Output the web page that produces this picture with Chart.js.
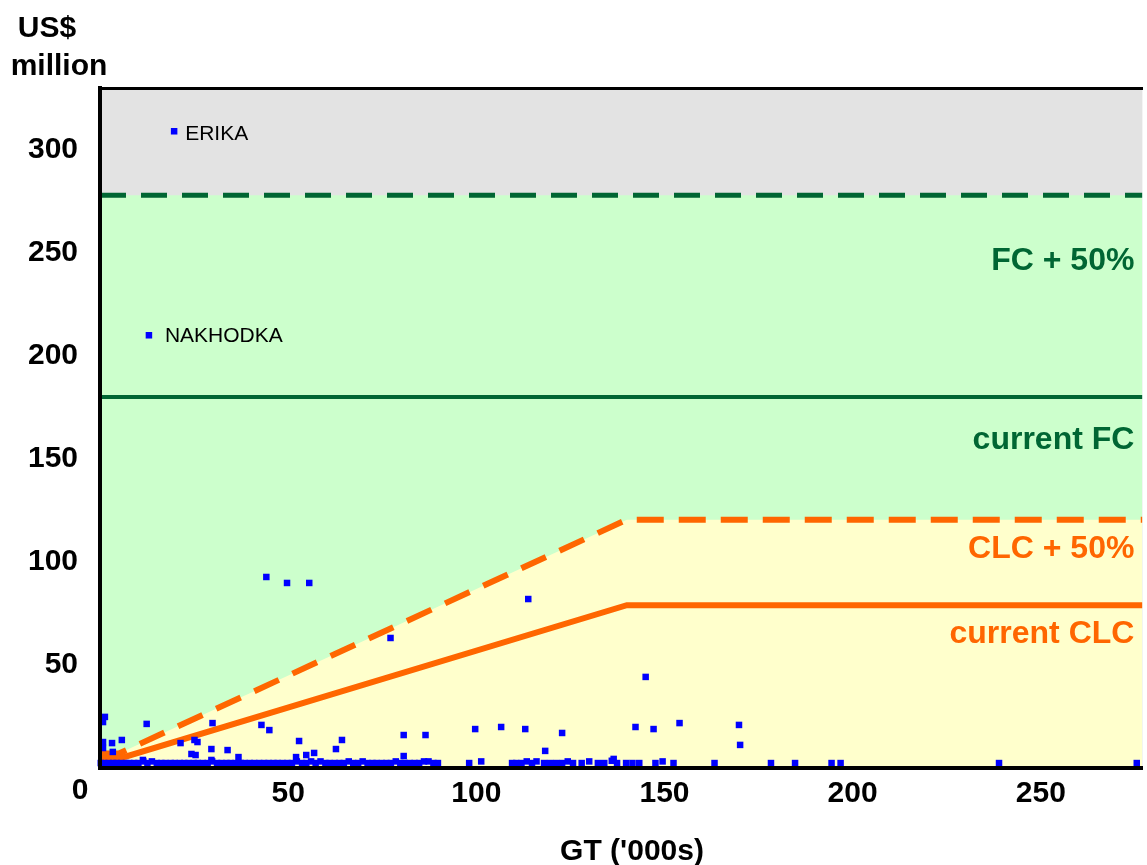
<!DOCTYPE html>
<html><head><meta charset="utf-8">
<script src="https://cdn.jsdelivr.net/npm/chart.js@4.4.1/dist/chart.umd.min.js"></script>
<style>html,body{margin:0;padding:0;background:#fff;overflow:hidden}#wrap{width:1147px;height:865px;position:relative}</style>
</head><body><div id="wrap"><canvas id="c" width="1147" height="865"></canvas></div>
<script>
// ---- data ----
const xTicks = [0, 50, 100, 150, 200, 250];
const yTicks = [0, 50, 100, 150, 200, 250, 300];

// limits (US$ million) vs GT ('000s)
const limitGT      = [0, 5, 140, 277];
const clcCurrent   = [4.5, 4.5, 79, 79];
const clcPlus50    = [7, 7, 120.5, 120.5];
const fcGT         = [0, 277];
const fcCurrent    = [180, 180];
const fcPlus50     = [278, 278];

// named incidents
const namedGT    = [19.7, 13.0];
const namedCost  = [309, 210];
const namedLabel = ['ERIKA', 'NAKHODKA'];

// other incidents (scattered)
const incGT = [44.2, 49.7, 55.6, 77.2, 113.8, 145.0, 1.3, 0.8, 12.4, 29.9, 42.9, 45.0, 0.8, 0.8, 3.2, 5.8,
  21.4, 25.1, 25.9, 29.6, 33.9, 24.3, 25.4, 36.8, 3.4, 11.4, 29.6, 52.9, 64.3, 62.7, 52.1, 54.8, 56.9,
  80.7, 86.5, 80.7, 99.7, 106.6, 113.0, 122.8, 118.3, 142.3, 147.1, 154.0, 169.8, 170.1, 136.5];
const incCost = [92.7, 89.8, 89.8, 63.1, 82.0, 44.2, 24.8, 22.3, 21.4, 21.8, 20.9, 18.4, 12.6, 9.7, 12.1, 13.6,
  12.1, 13.6, 12.6, 9.2, 8.7, 6.8, 6.3, 5.3, 7.8, 3.9, 3.9, 13.1, 13.6, 9.2, 5.3, 6.3, 7.3,
  16.0, 16.0, 5.8, 18.9, 19.9, 18.9, 17.0, 8.3, 19.9, 18.9, 21.8, 20.9, 11.2, 4.4];

// small incidents along the bottom
const smallGT = [0.2, 1.1, 2.3, 3.5, 4.4, 5.6, 6.9, 7.8, 9.1, 10.2, 11.5, 12.6, 13.8, 15.1, 16.3, 17.4, 18.8,
  19.9, 21.2, 22.4, 23.5, 24.9, 26.0, 27.3, 28.6, 29.8, 31.1, 32.3, 33.6, 34.7, 36.0, 37.4, 38.5, 39.8,
  41.0, 42.3, 43.6, 44.8, 46.1, 47.2, 48.5, 49.8, 51.0, 52.3, 53.7, 54.8, 56.1, 57.3, 58.6, 59.9, 61.0,
  62.4, 63.6, 64.8, 66.1, 67.3, 68.6, 69.8, 71.1, 72.4, 73.5, 74.9, 76.1, 77.3, 78.6, 79.8, 81.0, 82.3,
  83.6, 84.8, 86.1, 87.3, 88.6, 89.8, 98.1, 101.3, 109.5, 110.6, 112.0, 113.4, 114.8, 116.0, 118.0,
  119.6, 121.2, 122.8, 124.3, 125.7, 128.0, 130.0, 132.3, 134.0, 136.0, 137.4, 139.8, 141.5, 143.3,
  147.6, 149.5, 152.4, 163.3, 178.3, 184.7, 194.4, 196.8, 238.9, 275.5];
const smallCost = [2.4, 2.4, 2.4, 2.4, 2.4, 2.4, 2.4, 2.4, 2.4, 2.4, 3.2, 2.4, 3.2, 2.4, 2.4, 2.4, 2.4,
  2.4, 2.4, 2.4, 2.4, 2.4, 2.4, 2.4, 2.4, 3.2, 2.4, 2.4, 2.4, 2.4, 2.4, 2.4, 2.4, 2.4,
  2.4, 2.4, 2.4, 2.4, 2.4, 2.4, 2.4, 2.4, 2.4, 3.2, 2.4, 2.4, 3.2, 2.4, 3.2, 2.4, 2.4,
  2.4, 2.4, 2.4, 3.2, 2.4, 2.4, 3.2, 2.4, 2.4, 2.4, 2.4, 2.4, 2.4, 3.2, 2.4, 2.4, 2.4,
  2.4, 2.4, 3.2, 3.2, 2.4, 2.4, 2.4, 3.2, 2.4, 2.4, 2.4, 3.2, 2.4, 3.2, 2.4,
  2.4, 2.4, 2.4, 3.2, 2.4, 2.4, 3.2, 2.4, 2.4, 3.5, 2.4, 2.4, 2.4, 2.4,
  2.4, 3.2, 2.4, 2.4, 2.4, 2.4, 2.4, 2.4, 2.4, 2.4];

// ---- build ----
const pts = (xs, ys) => xs.map((x, i) => ({x: x, y: ys[i]}));
const F = "'Liberation Sans', Arial, sans-serif";
const GREEN = '#006633', ORANGE = '#ff6600', BLUE = '#0000ff';

const allIncidents = pts(namedGT, namedCost).concat(pts(incGT, incCost), pts(smallGT, smallCost));

const annot = {
  id: 'annot',
  beforeDraw(chart) {
    const {ctx, chartArea: a} = chart;
    ctx.save();
    ctx.fillStyle = '#e3e3e3';
    ctx.fillRect(a.left, a.top, a.right - a.left, a.bottom - a.top);
    ctx.restore();
  },
  afterDatasetsDraw(chart) {
    const {ctx, chartArea: a} = chart;
    const xs = chart.scales.x, ys = chart.scales.y;
    ctx.save();
    // level labels
    ctx.textAlign = 'right';
    ctx.textBaseline = 'alphabetic';
    ctx.font = 'bold 32px ' + F;
    const rx = a.right - 8;
    ctx.fillStyle = GREEN;
    ctx.fillText('FC + 50%', rx, ys.getPixelForValue(fcPlus50[1]) + 75);
    ctx.fillText('current FC', rx, ys.getPixelForValue(fcCurrent[1]) + 52);
    ctx.fillStyle = ORANGE;
    ctx.fillText('CLC + 50%', rx, ys.getPixelForValue(clcPlus50[3]) + 38);
    ctx.fillText('current CLC', rx, ys.getPixelForValue(clcCurrent[3]) + 38);
    // named incidents
    ctx.textAlign = 'left';
    ctx.fillStyle = '#000';
    ctx.font = '21px ' + F;
    const off = [[11, 8.5], [16, 6.5]];
    namedLabel.forEach((t, i) => {
      ctx.fillText(t, xs.getPixelForValue(namedGT[i]) + off[i][0], ys.getPixelForValue(namedCost[i]) + off[i][1]);
    });
    // axis titles and shared origin label
    ctx.font = 'bold 30px ' + F;
    ctx.textAlign = 'center';
    ctx.fillText('US$', 47, 37);
    ctx.fillText('million', 59, 75);
    ctx.fillText("GT ('000s)", 632, 860);
    ctx.fillText('0', a.left - 20, a.bottom + 31);
    ctx.restore();
  }
};

const tickFont = {family: F, size: 30, weight: 'bold'};

new Chart(document.getElementById('c'), {
  type: 'line',
  data: {
    datasets: [
      {label: 'incidents', data: allIncidents, showLine: false, pointStyle: 'rect', pointRadius: 4.6,
       pointBackgroundColor: BLUE, pointBorderWidth: 0, clip: false},
      {label: 'current CLC', data: pts(limitGT, clcCurrent), borderColor: ORANGE, borderWidth: 6, pointRadius: 0,
       fill: false, tension: 0},
      {label: 'CLC + 50%', data: pts(limitGT, clcPlus50), borderColor: ORANGE, borderWidth: 6, borderDash: [27, 15],
       pointRadius: 0, fill: 'origin', backgroundColor: '#ffffcc', tension: 0},
      {label: 'current FC', data: pts(fcGT, fcCurrent), borderColor: GREEN, borderWidth: 4, pointRadius: 0,
       fill: false},
      {label: 'FC + 50%', data: pts(fcGT, fcPlus50), borderColor: GREEN, borderWidth: 5, borderDash: [26, 15],
       pointRadius: 0, fill: 'origin', backgroundColor: '#ccffcc'}
    ]
  },
  options: {
    responsive: false,
    animation: false,
    devicePixelRatio: 1,
    layout: {padding: {top: 88, left: 0, right: 0, bottom: 0}},
    plugins: {
      legend: {display: false},
      tooltip: {enabled: false},
      filler: {drawTime: 'beforeDatasetsDraw'}
    },
    scales: {
      x: {
        type: 'linear', position: 'bottom', min: 0, max: 277,
        afterFit(s) { s.height = 97; },
        afterBuildTicks(s) { s.ticks = xTicks.map(v => ({value: v})); },
        ticks: {padding: 8, color: '#000', font: tickFont, maxRotation: 0, autoSkip: false,
                callback: v => (v === 0 ? '' : String(v))},
        grid: {display: false, drawTicks: false},
        border: {display: true, color: '#000', width: 4, z: 2}
      },
      x2: {
        type: 'linear', position: 'top', min: 0, max: 277,
        afterFit(s) { s.height = 0; },
        ticks: {display: false},
        grid: {display: false, drawTicks: false},
        border: {display: true, color: '#000', width: 3, z: 2}
      },
      y: {
        type: 'linear', position: 'left', min: 0, max: 330,
        afterFit(s) { s.width = 100; },
        afterBuildTicks(s) { s.ticks = yTicks.map(v => ({value: v})); },
        ticks: {padding: 22, color: '#000', font: tickFont, callback: v => (v === 0 ? '' : String(v))},
        grid: {display: false, drawTicks: false},
        border: {display: true, color: '#000', width: 4, z: 2}
      }
    }
  },
  plugins: [annot]
});
</script>
</body></html>
